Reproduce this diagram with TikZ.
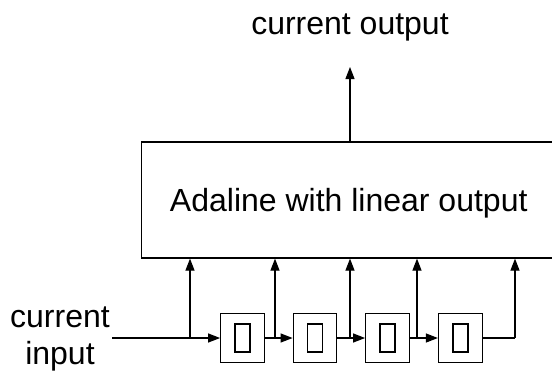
\documentclass[tikz,border=0pt]{standalone}
\usepackage{fontspec}
\setmainfont{Liberation Sans}
\usetikzlibrary{arrows.meta}
\begin{document}
\begin{tikzpicture}[x=1pt, y=-1pt, line width=1.2pt,
  lbl/.style={font=\fontsize{32}{37}\selectfont, inner sep=0pt},
  mainbox/.style={draw, minimum width=414.5pt, minimum height=116pt, inner sep=0pt},
  delay/.style={draw, minimum width=43.6pt, minimum height=49.4pt, inner sep=0pt},
  slot/.style={draw, line width=1.7pt, minimum width=15pt, minimum height=27.5pt, inner sep=0pt},
  feed/.style={-{Triangle[length=12pt, width=9pt]}}]
\useasboundingbox (0,0) rectangle (552,373);

% adaptive linear element (right side runs past the page edge)
\node[mainbox] (ada) at (348.75,200) {};
\node[lbl, anchor=base] (adatxt) at (348.75,211) {Adaline with linear output};

% tapped delay line
\foreach \i/\x in {1/242.5, 2/315, 3/387.5, 4/460.3} {
  \node[delay] (d\i) at (\x,338) {};
  \node[slot] (s\i) at (d\i.center) {};
}

% labels
\node[lbl, anchor=base] (lout) at (350,34) {current output};
\node[lbl, align=center] (lin) at (60,338.5) {current\\input};

% taps
\coordinate (inp) at (112,338);
\coordinate (t0) at (190,338);
\coordinate (t1) at (275,338);
\coordinate (t2) at (350,338);
\coordinate (t3) at (417,338);
\coordinate (t4) at (515,338);
\coordinate (top) at (350,67);

\draw[feed] (inp) -- (d1.west);
\draw[feed] (d1.east) -- (d2.west);
\draw[feed] (d2.east) -- (d3.west);
\draw[feed] (d3.east) -- (d4.west);
\draw (d4.east) -- (t4);

\foreach \t in {t0,t1,t2,t3,t4}
  \draw[feed] (\t) -- (\t |- ada.south);

% output
\draw[feed] (top |- ada.north) -- (top);
\end{tikzpicture}
\end{document}
